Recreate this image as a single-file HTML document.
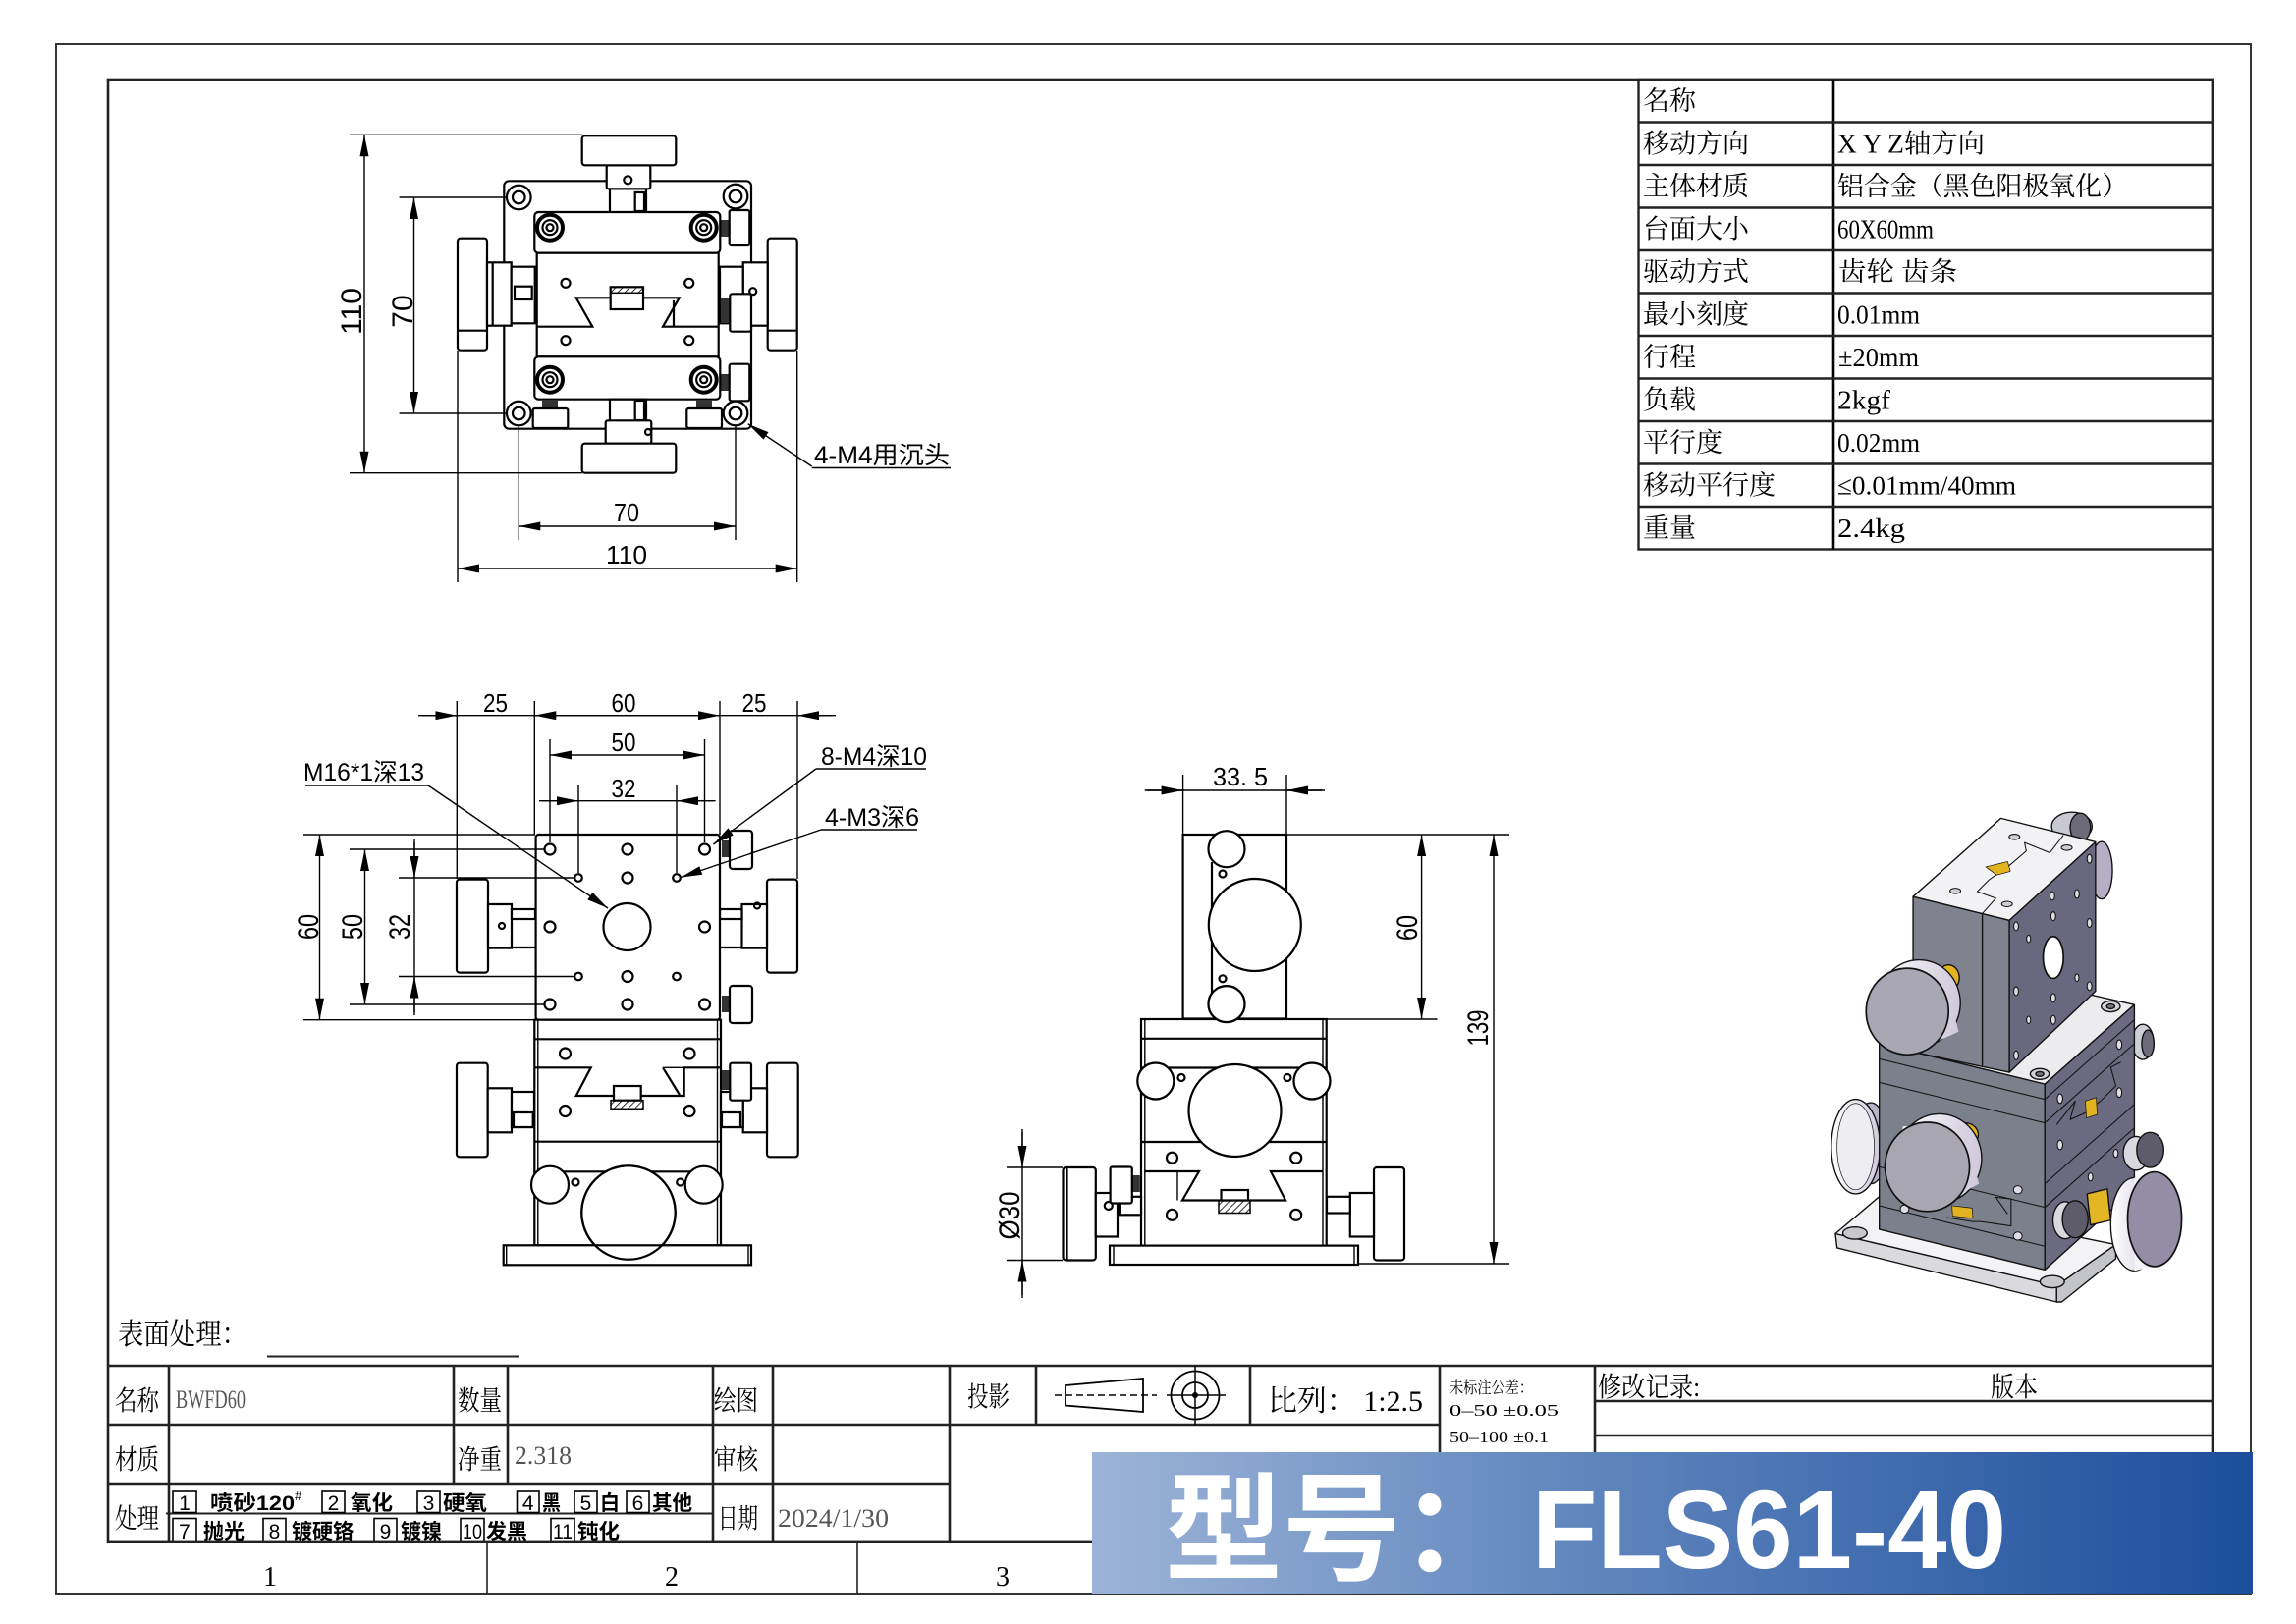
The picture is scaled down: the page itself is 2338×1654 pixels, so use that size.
<!DOCTYPE html>
<html><head><meta charset="utf-8">
<style>
html,body{margin:0;padding:0;background:#fff;}
svg{display:block;}
.o{stroke:#000;stroke-width:2.2;fill:#fff;}
.n{stroke:#000;stroke-width:2.2;fill:none;}
.d{stroke:#000;stroke-width:1.4;fill:none;}
.ds{stroke:#000;stroke-width:1.4;fill:none;marker-start:url(#ar);marker-end:url(#ar);}
.de{stroke:#000;stroke-width:1.4;fill:none;marker-end:url(#ar);}
.b{stroke:#000;stroke-width:2.6;fill:none;}
.t{font-family:"Liberation Sans","Noto Sans CJK SC",sans-serif;fill:#000;}
.s{font-family:"Liberation Serif","Noto Serif CJK SC",serif;fill:#000;}
.k{font-family:"Liberation Sans","Noto Sans CJK SC",sans-serif;font-weight:bold;fill:#000;}
</style></head><body>
<svg width="2338" height="1654" viewBox="0 0 2338 1654" xmlns="http://www.w3.org/2000/svg">
<defs>
<marker id="ar" markerUnits="userSpaceOnUse" markerWidth="22" markerHeight="9" viewBox="0 0 22 9" refX="22" refY="4.5" orient="auto-start-reverse"><path d="M0,0 L22,4.5 L0,9 z" fill="#000"/></marker>
<linearGradient id="bg" x1="0" x2="1" y1="0" y2="0"><stop offset="0" stop-color="#9cb3d7"/><stop offset="0.4" stop-color="#6388bf"/><stop offset="1" stop-color="#1c4e9c"/></linearGradient>
<linearGradient id="rim" x1="0" x2="1" y1="0" y2="0"><stop offset="0" stop-color="#ffffff"/><stop offset="1" stop-color="#cfc8dc"/></linearGradient>
<pattern id="h" width="5" height="5" patternUnits="userSpaceOnUse" patternTransform="rotate(45)"><line x1="0" y1="0" x2="0" y2="5" stroke="#000" stroke-width="1.6"/></pattern>
</defs>
<rect width="2338" height="1654" fill="#fff"/>

<!-- borders -->
<rect x="57" y="45" width="2235" height="1578" fill="none" stroke="#333" stroke-width="2"/>
<rect x="110" y="81" width="2143" height="1489" fill="none" stroke="#222" stroke-width="2.6"/>

<!-- ================= TOP VIEW ================= -->
<g>
<rect class="o" x="513.3" y="184.3" width="251.7" height="252.4" rx="5"/>
<circle class="o" cx="528.3" cy="201" r="12.3"/><circle class="n" cx="528.3" cy="201" r="6.3"/>
<circle class="o" cx="749" cy="200" r="12.3"/><circle class="n" cx="749" cy="200" r="6.3"/>
<circle class="o" cx="528.3" cy="421" r="12.3"/><circle class="n" cx="528.3" cy="421" r="6.3"/>
<circle class="o" cx="749" cy="421" r="12.3"/><circle class="n" cx="749" cy="421" r="6.3"/>
<!-- top knob -->
<rect class="o" x="621" y="192.3" width="37" height="24"/>
<rect class="o" x="646.7" y="196" width="9.3" height="19"/>
<rect class="o" x="617.7" y="168.3" width="44.6" height="24" rx="2"/>
<circle class="n" cx="639.3" cy="183.3" r="4"/>
<rect class="o" x="592.7" y="138.3" width="95.6" height="30" rx="3"/>
<!-- side knobs -->
<rect class="o" x="466" y="242.7" width="30" height="114" rx="3"/>
<line class="n" x1="466" y1="336.7" x2="496" y2="336.7"/>
<rect class="o" x="496" y="267.3" width="24.7" height="64.4"/>
<line class="n" x1="501.7" y1="267.3" x2="501.7" y2="331.7"/>
<rect class="o" x="520.7" y="271.7" width="24" height="57.6"/>
<rect class="o" x="524" y="291.7" width="17.7" height="13.3"/>
<rect class="o" x="781.7" y="242.7" width="30" height="114" rx="3"/>
<line class="n" x1="781.7" y1="336.7" x2="811.7" y2="336.7"/>
<rect class="o" x="756.7" y="267.3" width="25" height="64.4"/>
<rect class="o" x="733" y="271.7" width="23.7" height="57.6"/>
<rect x="734" y="303" width="10" height="26" fill="#333"/>
<rect class="o" x="743.3" y="299.3" width="21.7" height="38.4" rx="2"/>
<circle class="o" cx="766.7" cy="296.7" r="3.5"/>
<rect x="734" y="224" width="9" height="17" fill="#333"/>
<rect x="734" y="381" width="9" height="17" fill="#333"/>
<rect class="o" x="742.7" y="214" width="20.6" height="36" rx="2"/>
<rect class="o" x="742.7" y="370.7" width="20.6" height="37.6" rx="2"/>
<!-- blocks -->
<rect class="o" x="544.3" y="216" width="189" height="41.7" rx="4"/>
<circle cx="560" cy="231.7" r="13" fill="#fff" stroke="#000" stroke-width="4"/><circle class="n" cx="560" cy="231.7" r="7.5"/><circle class="n" cx="560" cy="231.7" r="3.5"/>
<circle cx="716.7" cy="231.7" r="13" fill="#fff" stroke="#000" stroke-width="4"/><circle class="n" cx="716.7" cy="231.7" r="7.5"/><circle class="n" cx="716.7" cy="231.7" r="3.5"/>
<rect class="o" x="546.7" y="257.7" width="185" height="105.6"/>
<circle class="n" cx="576" cy="288.3" r="4.5"/><circle class="n" cx="701.7" cy="288.3" r="4.5"/>
<circle class="n" cx="576" cy="346.7" r="4.5"/><circle class="n" cx="701.7" cy="346.7" r="4.5"/>
<polyline class="n" points="546.7,332.7 603.3,332.7 586.7,303.3 621.7,303.3"/>
<polyline class="n" points="655,303.3 691.7,303.3 675,332.7 731.7,332.7"/>
<line class="n" x1="686" y1="306" x2="686" y2="332"/>
<rect class="o" x="621.7" y="292.3" width="33.3" height="22.7"/>
<rect x="621.7" y="292.3" width="33.3" height="6" fill="url(#h)" stroke="#000" stroke-width="1.5"/>
<rect class="o" x="544.3" y="363.3" width="189" height="43.4" rx="4"/>
<circle cx="560" cy="386.7" r="13" fill="#fff" stroke="#000" stroke-width="4"/><circle class="n" cx="560" cy="386.7" r="7.5"/><circle class="n" cx="560" cy="386.7" r="3.5"/>
<circle cx="716.7" cy="386.7" r="13" fill="#fff" stroke="#000" stroke-width="4"/><circle class="n" cx="716.7" cy="386.7" r="7.5"/><circle class="n" cx="716.7" cy="386.7" r="3.5"/>
<!-- bottom parts -->
<rect x="552" y="407" width="16" height="9" fill="#333"/>
<rect x="709" y="407" width="16" height="9" fill="#333"/>
<rect class="o" x="542.7" y="416" width="35.6" height="20" rx="2"/>
<rect class="o" x="699.3" y="416" width="35.7" height="20" rx="2"/>
<rect class="o" x="621" y="406.7" width="37" height="25"/>
<rect class="o" x="646.7" y="408" width="9.3" height="20"/>
<rect class="o" x="616.7" y="428.3" width="46.6" height="23.4" rx="2"/>
<circle class="o" cx="660" cy="440" r="3"/>
<rect class="o" x="592.7" y="451.7" width="95.6" height="30" rx="3"/>
<!-- dims -->
<line class="d" x1="356" y1="137.3" x2="592.7" y2="137.3"/>
<line class="d" x1="356" y1="481.7" x2="592.7" y2="481.7"/>
<line class="ds" x1="371" y1="137.3" x2="371" y2="481.7"/>
<line class="d" x1="406.6" y1="201" x2="516" y2="201"/>
<line class="d" x1="406.6" y1="421" x2="516" y2="421"/>
<line class="ds" x1="421.5" y1="201" x2="421.5" y2="421"/>
<line class="d" x1="466" y1="357" x2="466" y2="593"/>
<line class="d" x1="528.3" y1="433" x2="528.3" y2="550"/>
<line class="d" x1="749" y1="433" x2="749" y2="550"/>
<line class="d" x1="811.7" y1="357" x2="811.7" y2="593"/>
<line class="ds" x1="528.3" y1="536" x2="749" y2="536"/>
<line class="ds" x1="466" y1="579" x2="811.7" y2="579"/>
<text class="t" x="638" y="531" font-size="26" text-anchor="middle" textLength="26" lengthAdjust="spacingAndGlyphs">70</text>
<text class="t" x="638" y="574" font-size="26" text-anchor="middle" textLength="42" lengthAdjust="spacingAndGlyphs">110</text>
<text class="t" transform="translate(368,317) rotate(-90)" font-size="30" text-anchor="middle">110</text>
<text class="t" transform="translate(420,317) rotate(-90)" font-size="30" text-anchor="middle">70</text>
<line class="de" x1="826.7" y1="475" x2="761.7" y2="431.7"/>
<line class="d" x1="826.7" y1="476.5" x2="968" y2="476.5"/>
<text class="t" x="829" y="472" font-size="25" textLength="138" lengthAdjust="spacingAndGlyphs">4-M4用沉头</text>
</g>

<!-- ================= FRONT VIEW ================= -->
<g>
<!-- upper knobs -->
<rect class="o" x="465" y="895.6" width="32" height="95" rx="3"/>
<rect class="o" x="497" y="921" width="24" height="44.6"/>
<circle class="n" cx="511" cy="943" r="3"/>
<rect class="o" x="521" y="926" width="24" height="10"/>
<line class="n" x1="521" y1="965" x2="545" y2="965"/>
<rect class="o" x="781" y="895.6" width="31" height="95" rx="3"/>
<rect class="o" x="755.5" y="921" width="25.5" height="44.6"/>
<circle class="n" cx="771" cy="922.5" r="3"/>
<rect class="o" x="733" y="926" width="22.5" height="10"/>
<line class="n" x1="733" y1="965" x2="755.5" y2="965"/>
<rect x="735" y="856" width="8" height="17" fill="#333"/>
<rect class="o" x="743" y="846" width="23" height="39" rx="3"/>
<rect x="735" y="1014" width="8" height="17" fill="#333"/>
<rect class="o" x="743" y="1004" width="23" height="38" rx="3"/>
<!-- top plate -->
<rect class="o" x="545.6" y="850" width="187.4" height="188.7" rx="3"/>
<g class="n">
<circle cx="560" cy="865" r="5.5"/><circle cx="639" cy="865" r="5.5"/><circle cx="717.5" cy="865" r="5.5"/>
<circle cx="560" cy="944" r="5.5"/><circle cx="717.5" cy="944" r="5.5"/>
<circle cx="560" cy="1023" r="5.5"/><circle cx="639" cy="1023" r="5.5"/><circle cx="717.5" cy="1023" r="5.5"/>
<circle cx="639" cy="894" r="5.5"/><circle cx="639" cy="994.5" r="5.5"/>
<circle cx="589" cy="894" r="3.8"/><circle cx="689" cy="894" r="3.8"/><circle cx="589" cy="994.5" r="3.8"/><circle cx="689" cy="994.5" r="3.8"/>
<circle cx="638.5" cy="944" r="24"/>
</g>
<!-- middle/lower body -->
<rect class="o" x="544.3" y="1038.7" width="189.7" height="229.6"/>
<line class="d" x1="547.8" y1="1038.7" x2="547.8" y2="1268.3"/>
<line class="d" x1="730.5" y1="1038.7" x2="730.5" y2="1268.3"/>
<line class="n" x1="544.3" y1="1058.3" x2="734" y2="1058.3"/>
<line class="n" x1="544.3" y1="1162.7" x2="734" y2="1162.7"/>
<circle class="n" cx="575.5" cy="1073" r="5.5"/><circle class="n" cx="702" cy="1073" r="5.5"/>
<circle class="n" cx="575.5" cy="1131.5" r="5.5"/><circle class="n" cx="702" cy="1131.5" r="5.5"/>
<polyline class="n" points="544.3,1087.3 601.7,1087.3 586.7,1116 696.7,1116 696.7,1087.3 734,1087.3"/>
<line class="n" x1="675" y1="1087.3" x2="692" y2="1115"/>
<line class="d" x1="675" y1="1087.3" x2="696.7" y2="1087.3"/>
<rect class="o" x="625" y="1106" width="27.7" height="14.7"/>
<rect x="622" y="1120.7" width="33" height="8.6" fill="url(#h)" stroke="#000" stroke-width="1.5"/>
<line class="n" x1="573" y1="1193.3" x2="703" y2="1193.3"/>
<circle class="o" cx="560" cy="1206.7" r="19"/>
<circle class="o" cx="716.7" cy="1206.7" r="19"/>
<circle class="n" cx="586" cy="1204" r="3.5"/><circle class="n" cx="692.7" cy="1204" r="3.5"/>
<circle class="o" cx="640" cy="1235" r="47.7"/>
<rect class="o" x="512.7" y="1268.3" width="252.3" height="20"/>
<line class="d" x1="515.7" y1="1268.3" x2="515.7" y2="1288.3"/>
<line class="d" x1="762" y1="1268.3" x2="762" y2="1288.3"/>
<circle class="n" cx="640" cy="1235" r="47.7"/>
<!-- lower knobs -->
<rect class="o" x="465" y="1082.7" width="31.7" height="95.6" rx="3"/>
<rect class="o" x="496.7" y="1108.3" width="24.3" height="45"/>
<rect class="o" x="521" y="1112" width="23" height="36"/>
<rect class="o" x="523" y="1133" width="19.7" height="15"/>
<rect class="o" x="781" y="1082.7" width="31.7" height="95.6" rx="3"/>
<rect class="o" x="756.7" y="1108.3" width="24.3" height="45"/>
<rect class="o" x="734" y="1112" width="22.7" height="36"/>
<rect class="o" x="735" y="1133" width="19" height="15"/>
<rect x="735" y="1090" width="8" height="20" fill="#333"/>
<rect class="o" x="743.3" y="1082.7" width="21.7" height="38" rx="2"/>
<!-- dims -->
<line class="d" x1="465.3" y1="714" x2="465.3" y2="895"/>
<line class="d" x1="544.3" y1="714" x2="544.3" y2="850"/>
<line class="d" x1="733" y1="714" x2="733" y2="850"/>
<line class="d" x1="812" y1="714" x2="812" y2="895"/>
<line class="d" x1="426" y1="728.7" x2="851" y2="728.7"/>
<line class="de" x1="430" y1="728.7" x2="465.3" y2="728.7"/>
<line class="ds" x1="544.3" y1="728.7" x2="733" y2="728.7"/>
<line class="de" x1="847" y1="728.7" x2="812" y2="728.7"/>
<text class="t" x="504.5" y="725" font-size="26" text-anchor="middle" textLength="25" lengthAdjust="spacingAndGlyphs">25</text>
<text class="t" x="635" y="725" font-size="26" text-anchor="middle" textLength="25" lengthAdjust="spacingAndGlyphs">60</text>
<text class="t" x="768" y="725" font-size="26" text-anchor="middle" textLength="25" lengthAdjust="spacingAndGlyphs">25</text>
<line class="d" x1="560" y1="753" x2="560" y2="858"/>
<line class="d" x1="717.5" y1="753" x2="717.5" y2="858"/>
<line class="ds" x1="560" y1="769" x2="717.5" y2="769"/>
<text class="t" x="635" y="765" font-size="26" text-anchor="middle" textLength="25" lengthAdjust="spacingAndGlyphs">50</text>
<line class="d" x1="589" y1="800" x2="589" y2="889"/>
<line class="d" x1="689" y1="800" x2="689" y2="889"/>
<line class="d" x1="549" y1="815.7" x2="728.6" y2="815.7"/>
<line class="de" x1="552" y1="815.7" x2="589" y2="815.7"/>
<line class="de" x1="726" y1="815.7" x2="689" y2="815.7"/>
<text class="t" x="635" y="812" font-size="26" text-anchor="middle" textLength="25" lengthAdjust="spacingAndGlyphs">32</text>
<line class="d" x1="309" y1="850" x2="545" y2="850"/>
<line class="d" x1="309" y1="1038.7" x2="545" y2="1038.7"/>
<line class="ds" x1="325.5" y1="850" x2="325.5" y2="1038.7"/>
<line class="d" x1="356" y1="865" x2="554" y2="865"/>
<line class="d" x1="356" y1="1023" x2="554" y2="1023"/>
<line class="ds" x1="371.5" y1="865" x2="371.5" y2="1023"/>
<line class="d" x1="406" y1="894" x2="585" y2="894"/>
<line class="d" x1="406" y1="994.5" x2="585" y2="994.5"/>
<line class="d" x1="422" y1="855" x2="422" y2="1034"/>
<line class="de" x1="422" y1="858" x2="422" y2="894"/>
<line class="de" x1="422" y1="1031" x2="422" y2="994.5"/>
<text class="t" transform="translate(324,944) rotate(-90)" font-size="30" text-anchor="middle" textLength="26" lengthAdjust="spacingAndGlyphs">60</text>
<text class="t" transform="translate(369,944) rotate(-90)" font-size="30" text-anchor="middle" textLength="26" lengthAdjust="spacingAndGlyphs">50</text>
<text class="t" transform="translate(417,944) rotate(-90)" font-size="30" text-anchor="middle" textLength="26" lengthAdjust="spacingAndGlyphs">32</text>
<!-- leaders -->
<line class="d" x1="311" y1="800" x2="436" y2="800"/>
<line class="de" x1="436" y1="800" x2="619" y2="925"/>
<text class="t" x="309" y="795" font-size="25" textLength="123" lengthAdjust="spacingAndGlyphs">M16*1深13</text>
<line class="d" x1="831" y1="783" x2="943" y2="783"/>
<line class="de" x1="831" y1="783" x2="726.4" y2="860"/>
<text class="t" x="836" y="779" font-size="25" textLength="108" lengthAdjust="spacingAndGlyphs">8-M4深10</text>
<line class="d" x1="836" y1="845" x2="934" y2="845"/>
<line class="de" x1="836" y1="845" x2="693" y2="893.6"/>
<text class="t" x="840" y="841" font-size="25" textLength="96" lengthAdjust="spacingAndGlyphs">4-M3深6</text>
</g>

<!-- ================= SIDE VIEW ================= -->
<g>
<rect class="o" x="1204.6" y="850" width="105.4" height="187.5"/>
<line class="n" x1="1234" y1="878" x2="1234" y2="1032"/>
<circle class="o" cx="1249" cy="864.7" r="18.5"/>
<circle class="o" cx="1277.8" cy="942" r="47"/>
<circle class="o" cx="1249" cy="1022.6" r="18.5"/>
<circle class="n" cx="1245" cy="890" r="3.5"/><circle class="n" cx="1245" cy="996.8" r="3.5"/>
<rect class="o" x="1162" y="1038" width="188.7" height="230.8"/>
<line class="d" x1="1165.8" y1="1038" x2="1165.8" y2="1268.8"/>
<line class="d" x1="1347" y1="1038" x2="1347" y2="1268.8"/>
<line class="n" x1="1162" y1="1057.8" x2="1350.7" y2="1057.8"/>
<line class="n" x1="1162" y1="1087.5" x2="1350.7" y2="1087.5"/>
<line class="n" x1="1162" y1="1163" x2="1350.7" y2="1163"/>
<circle class="o" cx="1249" cy="1022.6" r="18.5"/>
<circle class="o" cx="1176.8" cy="1101" r="18.5"/>
<circle class="o" cx="1336" cy="1101" r="18.5"/>
<circle class="n" cx="1203" cy="1097.5" r="3.5"/><circle class="n" cx="1311" cy="1097.5" r="3.5"/>
<circle class="o" cx="1257.5" cy="1131" r="47"/>
<circle class="n" cx="1193.5" cy="1179.2" r="5.5"/><circle class="n" cx="1319.7" cy="1179.2" r="5.5"/>
<circle class="n" cx="1193.5" cy="1237.3" r="5.5"/><circle class="n" cx="1319.7" cy="1237.3" r="5.5"/>
<polyline class="n" points="1165.8,1193 1221,1193 1204,1222.5 1309,1222.5 1294,1193 1347,1193"/>
<line class="d" x1="1199" y1="1193" x2="1199" y2="1222.5"/>
<rect class="o" x="1243.5" y="1212" width="27.5" height="10.5"/>
<rect x="1241" y="1222.5" width="32" height="13" fill="url(#h)" stroke="#000" stroke-width="1.5"/>
<rect class="o" x="1130" y="1268.6" width="253" height="19.4"/>
<line class="d" x1="1134" y1="1268.6" x2="1134" y2="1288"/>
<line class="d" x1="1379" y1="1268.6" x2="1379" y2="1288"/>
<!-- knobs -->
<rect class="o" x="1082.5" y="1189" width="33.3" height="94.5" rx="3"/>
<line class="n" x1="1086.5" y1="1189" x2="1086.5" y2="1283.5"/>
<rect class="o" x="1115.8" y="1215" width="22.2" height="44.5"/>
<rect class="o" x="1140" y="1218.8" width="22" height="18.5"/>
<rect x="1152.8" y="1197" width="8" height="17" fill="#333"/>
<rect class="o" x="1130.6" y="1188.5" width="22.2" height="37" rx="2"/>
<circle class="o" cx="1128.8" cy="1228" r="4"/>
<rect class="o" x="1399" y="1189" width="31" height="94.5" rx="3"/>
<rect class="o" x="1374.8" y="1215" width="24.2" height="44.5"/>
<rect class="o" x="1351" y="1218.8" width="23.8" height="16.7"/>
<!-- dims -->
<line class="d" x1="1204.6" y1="789" x2="1204.6" y2="850"/>
<line class="d" x1="1310" y1="789" x2="1310" y2="850"/>
<line class="d" x1="1165.7" y1="805" x2="1349" y2="805"/>
<line class="de" x1="1168" y1="805" x2="1204.6" y2="805"/>
<line class="de" x1="1346" y1="805" x2="1310" y2="805"/>
<text class="t" x="1263" y="800" font-size="26" text-anchor="middle" textLength="56" lengthAdjust="spacingAndGlyphs">33. 5</text>
<line class="d" x1="1310" y1="850" x2="1537" y2="850"/>
<line class="d" x1="1350.7" y1="1038" x2="1463.5" y2="1038"/>
<line class="d" x1="1383" y1="1287" x2="1537" y2="1287"/>
<line class="ds" x1="1447.6" y1="850" x2="1447.6" y2="1038"/>
<line class="ds" x1="1521" y1="850" x2="1521" y2="1287"/>
<text class="t" transform="translate(1443,945) rotate(-90)" font-size="30" text-anchor="middle" textLength="26" lengthAdjust="spacingAndGlyphs">60</text>
<text class="t" transform="translate(1515,1047) rotate(-90)" font-size="30" text-anchor="middle" textLength="37" lengthAdjust="spacingAndGlyphs">139</text>
<line class="d" x1="1025" y1="1189" x2="1082" y2="1189"/>
<line class="d" x1="1025" y1="1283.5" x2="1082" y2="1283.5"/>
<line class="d" x1="1041" y1="1150" x2="1041" y2="1322"/>
<line class="de" x1="1041" y1="1153" x2="1041" y2="1189"/>
<line class="de" x1="1041" y1="1319" x2="1041" y2="1283.5"/>
<text class="t" transform="translate(1038,1238) rotate(-90)" font-size="30" text-anchor="middle" textLength="49" lengthAdjust="spacingAndGlyphs">Ø30</text>
</g>

<!-- ================= 3D RENDER ================= -->
<g transform="translate(1838,810) scale(0.344)" stroke="#111" stroke-width="4" stroke-linejoin="round">
<!-- back knobs -->
<ellipse cx="790" cy="92" rx="60" ry="42" fill="#c9c9d1"/>
<ellipse cx="815" cy="95" rx="30" ry="42" fill="#6d6b7a"/>
<ellipse cx="878" cy="222" rx="32" ry="85" fill="#b5aec4"/>
<ellipse cx="1000" cy="730" rx="32" ry="52" fill="#cfcfd6"/>
<ellipse cx="1015" cy="735" rx="18" ry="40" fill="#6d6b7a"/>
<!-- base plate -->
<polygon points="90,1298 745,1452 745,1500 95,1340" fill="#dadade"/>
<polygon points="745,1452 920,1330 920,1372 760,1500 745,1500" fill="#c4c4cb"/>
<polygon points="90,1298 220,1188 920,1330 745,1452" fill="#f3f3f5"/>
<ellipse cx="148" cy="1296" rx="36" ry="18" fill="#c8c8cc"/>
<ellipse cx="732" cy="1440" rx="36" ry="18" fill="#c8c8cc"/>
<!-- left back knob -->
<ellipse cx="195" cy="1030" rx="50" ry="120" fill="#b9b3c8"/>
<ellipse cx="150" cy="1040" rx="72" ry="140" fill="url(#rim)"/>
<ellipse cx="150" cy="1040" rx="55" ry="128" fill="#eeeef2" stroke-width="2"/>
<!-- lower body -->
<polygon points="220,735 710,855 975,620 490,510" fill="#ececef"/>
<polygon points="220,735 710,855 710,1405 220,1285" fill="#7c808c"/>
<polygon points="710,855 975,620 975,1165 710,1405" fill="#6c6a80"/>
<g fill="none" stroke-width="3">
<line x1="220" y1="780" x2="710" y2="900"/>
<line x1="220" y1="850" x2="710" y2="970"/>
<line x1="220" y1="1100" x2="710" y2="1220"/>
<line x1="220" y1="1215" x2="710" y2="1335"/>
<line x1="710" y1="900" x2="975" y2="665"/>
<line x1="710" y1="970" x2="975" y2="735"/>
<line x1="710" y1="1150" x2="975" y2="915"/>
<line x1="710" y1="1220" x2="975" y2="985"/>
<polyline points="745,975 800,905 785,960 830,940 875,905 920,860 905,805 935,790"/>
<polyline points="420,1250 495,1262 520,1262 610,1275 610,1195 565,1190 600,1240"/>
</g>
<polygon points="830,905 862,895 865,945 833,955" fill="#e2b221" stroke-width="2"/>
<polygon points="435,1215 495,1222 497,1252 437,1246" fill="#e2b221" stroke-width="2"/>
<g fill="#dcdce2" stroke-width="3">
<ellipse cx="755" cy="898" rx="8" ry="14"/><ellipse cx="930" cy="738" rx="8" ry="14"/>
<ellipse cx="755" cy="1035" rx="8" ry="14"/><ellipse cx="930" cy="880" rx="8" ry="14"/>
<ellipse cx="845" cy="1130" rx="7" ry="12"/><ellipse cx="920" cy="1060" rx="7" ry="12"/>
<ellipse cx="295" cy="1225" rx="13" ry="12"/><ellipse cx="630" cy="1168" rx="13" ry="12"/>
<ellipse cx="630" cy="1305" rx="13" ry="12"/>
</g>
<ellipse cx="905" cy="625" rx="28" ry="16" fill="#d0d0d6"/>
<ellipse cx="905" cy="625" rx="12" ry="7" fill="#777"/>
<ellipse cx="695" cy="825" rx="28" ry="16" fill="#d0d0d6"/>
<ellipse cx="695" cy="825" rx="12" ry="7" fill="#777"/>
<!-- upper block -->
<polygon points="320,300 605,370 605,820 320,760" fill="#80838f"/>
<line x1="525" y1="352" x2="525" y2="800" stroke-width="4"/>
<polygon points="605,370 860,138 860,580 605,820" fill="#6a687f"/>
<polygon points="320,300 580,68 860,138 605,370" fill="#f2f2f4"/>
<polyline points="525,350 565,305 510,285 545,250 600,212 655,165 650,140 725,170 765,118" fill="none" stroke-width="3"/>
<polygon points="535,212 600,196 608,225 568,236" fill="#e2b221" stroke-width="2"/>
<g fill="#cfcfd6" stroke-width="3">
<ellipse cx="445" cy="283" rx="16" ry="8"/><ellipse cx="598" cy="322" rx="16" ry="8"/>
<ellipse cx="620" cy="123" rx="16" ry="8"/><ellipse cx="775" cy="155" rx="16" ry="8"/>
</g>
<ellipse cx="735" cy="480" rx="30" ry="62" fill="#fff" stroke-width="5"/>
<g fill="#dcdce2" stroke-width="3">
<ellipse cx="625" cy="388" rx="7" ry="13"/><ellipse cx="732" cy="298" rx="7" ry="13"/>
<ellipse cx="805" cy="292" rx="7" ry="13"/><ellipse cx="842" cy="188" rx="7" ry="13"/>
<ellipse cx="735" cy="358" rx="7" ry="13"/><ellipse cx="842" cy="378" rx="7" ry="13"/>
<ellipse cx="662" cy="425" rx="6" ry="11"/><ellipse cx="805" cy="540" rx="6" ry="11"/>
<ellipse cx="625" cy="580" rx="7" ry="13"/><ellipse cx="735" cy="600" rx="7" ry="13"/>
<ellipse cx="842" cy="565" rx="7" ry="13"/><ellipse cx="662" cy="665" rx="6" ry="11"/>
<ellipse cx="735" cy="665" rx="7" ry="13"/><ellipse cx="625" cy="770" rx="7" ry="13"/>
</g>
<!-- upper big knob -->
<ellipse cx="425" cy="540" rx="32" ry="38" fill="#e2b221"/>
<ellipse cx="338" cy="615" rx="122" ry="128" fill="url(#rim)"/>
<polygon points="230,520 405,510 455,700 320,760 200,720" fill="url(#rim)" stroke="none"/>
<ellipse cx="303" cy="640" rx="122" ry="128" fill="#a9a7b4" stroke-width="5"/>
<!-- lower big knob -->
<ellipse cx="475" cy="1005" rx="38" ry="35" fill="#e2b221"/>
<ellipse cx="398" cy="1075" rx="125" ry="132" fill="url(#rim)"/>
<polygon points="290,980 470,975 515,1150 370,1230 260,1180" fill="url(#rim)" stroke="none"/>
<ellipse cx="362" cy="1100" rx="125" ry="132" fill="#a8a6b1" stroke-width="5"/>
<!-- right knobs -->
<ellipse cx="980" cy="1060" rx="38" ry="50" fill="#d8d8de"/>
<ellipse cx="1022" cy="1050" rx="40" ry="52" fill="#5e5c6b"/>
<polygon points="835,1180 895,1165 905,1258 845,1272" fill="#e2b624"/>
<ellipse cx="770" cy="1258" rx="36" ry="55" fill="#d8d8de"/>
<ellipse cx="800" cy="1255" rx="38" ry="55" fill="#5e5c6b"/>
<ellipse cx="975" cy="1270" rx="70" ry="138" fill="url(#rim)"/>
<polygon points="975,1132 1030,1118 1040,1392 975,1408" fill="#f3f2f6" stroke="none"/>
<ellipse cx="1035" cy="1255" rx="80" ry="140" fill="#958da6" stroke-width="5"/>
</g>

<!-- ================= SPEC TABLE ================= -->
<g>
<rect x="1668.5" y="81" width="584.5" height="478.5" fill="none" stroke="#222" stroke-width="2.4"/>
<line class="b" x1="1867" y1="81" x2="1867" y2="559.5"/>
<g stroke="#222" stroke-width="2.4">
<line x1="1668.5" y1="124.5" x2="2253" y2="124.5"/>
<line x1="1668.5" y1="168" x2="2253" y2="168"/>
<line x1="1668.5" y1="211.5" x2="2253" y2="211.5"/>
<line x1="1668.5" y1="255" x2="2253" y2="255"/>
<line x1="1668.5" y1="298.5" x2="2253" y2="298.5"/>
<line x1="1668.5" y1="342" x2="2253" y2="342"/>
<line x1="1668.5" y1="385.5" x2="2253" y2="385.5"/>
<line x1="1668.5" y1="429" x2="2253" y2="429"/>
<line x1="1668.5" y1="472.5" x2="2253" y2="472.5"/>
<line x1="1668.5" y1="516" x2="2253" y2="516"/>
</g>
<g class="s" font-size="27">
<text x="1673" y="112">名称</text>
<text x="1673" y="155.5">移动方向</text>
<text x="1673" y="199">主体材质</text>
<text x="1673" y="242.5">台面大小</text>
<text x="1673" y="286">驱动方式</text>
<text x="1673" y="329.5">最小刻度</text>
<text x="1673" y="373">行程</text>
<text x="1673" y="416.5">负载</text>
<text x="1673" y="460">平行度</text>
<text x="1673" y="503.5">移动平行度</text>
<text x="1673" y="547">重量</text>
<text x="1871" y="155.5" textLength="150" lengthAdjust="spacingAndGlyphs">X Y Z轴方向</text>
<text x="1871" y="199" textLength="296" lengthAdjust="spacingAndGlyphs">铝合金（黑色阳极氧化）</text>
<text x="1871" y="242.5" textLength="98" lengthAdjust="spacingAndGlyphs">60X60mm</text>
<text x="1872" y="286" textLength="121" lengthAdjust="spacingAndGlyphs">齿轮 齿条</text>
<text x="1871" y="329.5" textLength="84" lengthAdjust="spacingAndGlyphs">0.01mm</text>
<text x="1872" y="373" textLength="82" lengthAdjust="spacingAndGlyphs">±20mm</text>
<text x="1871" y="416.5" textLength="54" lengthAdjust="spacingAndGlyphs">2kgf</text>
<text x="1871" y="460" textLength="84" lengthAdjust="spacingAndGlyphs">0.02mm</text>
<text x="1871" y="503.5" textLength="182" lengthAdjust="spacingAndGlyphs">≤0.01mm/40mm</text>
<text x="1871" y="547" textLength="69" lengthAdjust="spacingAndGlyphs">2.4kg</text>
</g>
</g>

<!-- ================= TITLE BLOCK ================= -->
<g>
<text class="s" x="120" y="1369" font-size="30" textLength="132" lengthAdjust="spacingAndGlyphs" fill="#222">表面处理：</text>
<line x1="272" y1="1381.5" x2="528" y2="1381.5" stroke="#222" stroke-width="2"/>
<g stroke="#222" stroke-width="2.6">
<line x1="110" y1="1391" x2="2253" y2="1391"/>
<line x1="110" y1="1451" x2="1466" y2="1451"/>
<line x1="110" y1="1511" x2="967" y2="1511"/>
<line x1="169" y1="1541.5" x2="726" y2="1541.5" stroke-width="2"/>
<line x1="172" y1="1391" x2="172" y2="1570"/>
<line x1="462" y1="1391" x2="462" y2="1511"/>
<line x1="517" y1="1391" x2="517" y2="1511"/>
<line x1="726" y1="1391" x2="726" y2="1570"/>
<line x1="787" y1="1391" x2="787" y2="1570"/>
<line x1="967" y1="1391" x2="967" y2="1570"/>
<line x1="1055" y1="1391" x2="1055" y2="1451"/>
<line x1="1273" y1="1391" x2="1273" y2="1451"/>
<line x1="1466" y1="1391" x2="1466" y2="1490"/>
<line x1="1624" y1="1391" x2="1624" y2="1490"/>
<line x1="1624" y1="1427" x2="2253" y2="1427"/>
<line x1="1624" y1="1462" x2="2253" y2="1462"/>
</g>
<g class="s" font-size="28" fill="#333">
<text x="117" y="1436" textLength="45" lengthAdjust="spacingAndGlyphs">名称</text>
<text x="117" y="1496" textLength="45" lengthAdjust="spacingAndGlyphs">材质</text>
<text x="117" y="1556" textLength="45" lengthAdjust="spacingAndGlyphs">处理</text>
<text x="466" y="1436" textLength="45" lengthAdjust="spacingAndGlyphs">数量</text>
<text x="466" y="1496" textLength="45" lengthAdjust="spacingAndGlyphs">净重</text>
<text x="727" y="1436" textLength="45" lengthAdjust="spacingAndGlyphs">绘图</text>
<text x="727" y="1496" textLength="45" lengthAdjust="spacingAndGlyphs">审核</text>
<text x="731" y="1556" textLength="41" lengthAdjust="spacingAndGlyphs">日期</text>
<text x="179" y="1434" font-size="26" textLength="71" lengthAdjust="spacingAndGlyphs" fill="#555">BWFD60</text>
<text x="524" y="1491" font-size="26" textLength="58" lengthAdjust="spacingAndGlyphs" fill="#555">2.318</text>
<text x="792" y="1555" font-size="26" textLength="113" lengthAdjust="spacingAndGlyphs" fill="#555">2024/1/30</text>
<text x="985" y="1432" textLength="43" lengthAdjust="spacingAndGlyphs">投影</text>
<text x="1291" y="1437" font-size="30" textLength="158" lengthAdjust="spacingAndGlyphs">比列： 1:2.5</text>
<text x="1627" y="1422" textLength="104" lengthAdjust="spacingAndGlyphs">修改记录:</text>
<text x="2027" y="1422" textLength="48" lengthAdjust="spacingAndGlyphs">版本</text>
</g>
<g class="s" font-size="17" fill="#444">
<text x="1476" y="1419" textLength="85" lengthAdjust="spacingAndGlyphs">未标注公差：</text>
<text x="1476" y="1442" textLength="111" lengthAdjust="spacingAndGlyphs">0–50    ±0.05</text>
<text x="1476" y="1469" textLength="101" lengthAdjust="spacingAndGlyphs">50–100  ±0.1</text>
<text x="1476" y="1494" textLength="101" lengthAdjust="spacingAndGlyphs">100+    ±0.2</text>
</g>
<!-- projection symbol -->
<polygon points="1085,1411 1164,1404 1164,1438 1085,1431.5" fill="none" stroke="#000" stroke-width="1.8"/>
<line x1="1074" y1="1421" x2="1178" y2="1421" stroke="#000" stroke-width="1.5" stroke-dasharray="7,4"/>
<circle cx="1217" cy="1421" r="24.5" fill="none" stroke="#000" stroke-width="1.8"/>
<circle cx="1217" cy="1421" r="13" fill="none" stroke="#000" stroke-width="1.8"/>
<circle cx="1217" cy="1421" r="3" fill="#000"/>
<line x1="1188" y1="1421" x2="1248" y2="1421" stroke="#000" stroke-width="1.5"/>
<line x1="1217" y1="1391" x2="1217" y2="1451" stroke="#000" stroke-width="1.5"/>
<!-- treatment options -->
<g fill="none" stroke="#000" stroke-width="1.6">
<rect x="176" y="1519" width="24" height="21.5"/><rect x="328" y="1519" width="23" height="21.5"/>
<rect x="425" y="1519" width="23" height="21.5"/><rect x="526.5" y="1519" width="22.5" height="21.5"/>
<rect x="585" y="1519" width="23" height="21.5"/><rect x="638" y="1519" width="23" height="21.5"/>
<rect x="176" y="1546.5" width="24" height="24"/><rect x="268" y="1546.5" width="23" height="24"/>
<rect x="381" y="1546.5" width="23" height="24"/><rect x="469" y="1546.5" width="24" height="24"/>
<rect x="561" y="1546.5" width="24" height="24"/>
</g>
<g class="t" font-size="21" text-anchor="middle">
<text x="188" y="1538">1</text><text x="339.5" y="1538">2</text><text x="436.5" y="1538">3</text>
<text x="537.7" y="1538">4</text><text x="596.5" y="1538">5</text><text x="649.5" y="1538">6</text>
<text x="188" y="1567">7</text><text x="279.5" y="1567">8</text><text x="392.5" y="1567">9</text>
<text x="481" y="1567" textLength="20" lengthAdjust="spacingAndGlyphs">10</text><text x="573" y="1567" textLength="20" lengthAdjust="spacingAndGlyphs">11</text>
</g>
<g class="k" font-size="21">
<text x="214" y="1538" textLength="86" lengthAdjust="spacingAndGlyphs">喷砂120</text>
<text x="300" y="1528" font-size="13" font-weight="normal">#</text>
<text x="357" y="1538" textLength="43" lengthAdjust="spacingAndGlyphs">氧化</text>
<text x="451" y="1538" textLength="45" lengthAdjust="spacingAndGlyphs">硬氧</text>
<text x="552" y="1538" textLength="19" lengthAdjust="spacingAndGlyphs">黑</text>
<text x="611" y="1538" textLength="20" lengthAdjust="spacingAndGlyphs">白</text>
<text x="664" y="1538" textLength="41" lengthAdjust="spacingAndGlyphs">其他</text>
<text x="207" y="1567" textLength="42" lengthAdjust="spacingAndGlyphs">抛光</text>
<text x="297" y="1567" textLength="63" lengthAdjust="spacingAndGlyphs">镀硬铬</text>
<text x="408" y="1567" textLength="42" lengthAdjust="spacingAndGlyphs">镀镍</text>
<text x="495" y="1567" textLength="42" lengthAdjust="spacingAndGlyphs">发黑</text>
<text x="588" y="1567" textLength="43" lengthAdjust="spacingAndGlyphs">钝化</text>
</g>
<!-- bottom strip -->
<rect x="110" y="1570" width="2143" height="3" fill="#fff"/>
<line x1="110" y1="1570" x2="2253" y2="1570" stroke="#222" stroke-width="2.6"/>
<line x1="496" y1="1570" x2="496" y2="1623" stroke="#222" stroke-width="1.6"/>
<line x1="873" y1="1570" x2="873" y2="1623" stroke="#222" stroke-width="1.6"/>
<g class="s" font-size="28" text-anchor="middle" fill="#222">
<text x="275" y="1615">1</text><text x="684" y="1615">2</text><text x="1021" y="1615">3</text>
</g>
</g>

<!-- ================= BANNER ================= -->
<rect x="1112" y="1479" width="1182" height="144" fill="url(#bg)"/>
<text x="1186" y="1600" font-family="'Noto Sans CJK SC','WenQuanYi Zen Hei',sans-serif" font-weight="bold" font-size="120" fill="#fff">型号：</text>
<text x="1560" y="1597" font-family="'Liberation Sans',sans-serif" font-weight="bold" font-size="113" fill="#fff" textLength="483" lengthAdjust="spacingAndGlyphs">FLS61-40</text>
</svg>
</body></html>
